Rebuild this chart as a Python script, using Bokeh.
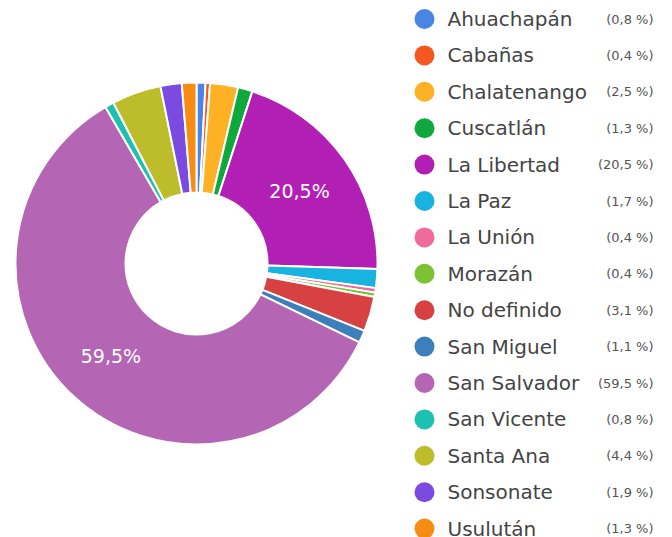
import math
from bokeh.plotting import figure
from bokeh.models import Range1d, ColumnDataSource
from bokeh.core.properties import value
from bokeh.embed import file_html
from bokeh.resources import INLINE

# ---- data ----
departments = ["Ahuachapán", "Cabañas", "Chalatenango", "Cuscatlán", "La Libertad",
               "La Paz", "La Unión", "Morazán", "No definido", "San Miguel",
               "San Salvador", "San Vicente", "Santa Ana", "Sonsonate", "Usulután"]
percents = [0.8, 0.4, 2.5, 1.3, 20.5, 1.7, 0.4, 0.4, 3.1, 1.1, 59.5, 0.8, 4.4, 1.9, 1.3]
colors = ["#4a84e4", "#f2581f", "#ffb126", "#0ea83c", "#b21fb4", "#19b3e0", "#ef6b9b",
          "#7cc232", "#d84142", "#3d7ebd", "#b466b5", "#1cc1b1", "#bdbd2b", "#7b4ae0", "#f68c12"]
pct_labels = ["(%s %%)" % str(v).replace(".", ",") for v in percents]
inner_labels = {"La Libertad": "20,5%", "San Salvador": "59,5%"}

W, H = 672, 537
p = figure(width=W, height=H, output_backend="svg", toolbar_location=None,
           x_range=Range1d(0, W), y_range=Range1d(0, H), min_border=0)
p.axis.visible = False
p.grid.visible = False
p.outline_line_color = None
p.background_fill_color = "white"

# ---- donut ----
cx, cy = 196, H - 263
r_out, r_in = 181, 71
total = sum(percents)
starts, ends = [], []
cum = 0.0
for v in percents:
    a0 = cum / total
    cum += v
    a1 = cum / total
    starts.append(math.pi / 2 - 2 * math.pi * a1)
    ends.append(math.pi / 2 - 2 * math.pi * a0)

src = ColumnDataSource(dict(x=[cx] * len(percents), y=[cy] * len(percents),
                            start=starts, end=ends, color=colors))
p.annular_wedge(x="x", y="y", inner_radius=r_in, outer_radius=r_out,
                inner_radius_units="screen", outer_radius_units="screen",
                start_angle="start", end_angle="end", fill_color="color",
                line_color="white", line_width=2, source=src)

lx, ly, lt = [], [], []
for name, s, e in zip(departments, starts, ends):
    if name in inner_labels:
        mid = (s + e) / 2
        rm = (r_in + r_out) / 2
        lx.append(cx + rm * math.cos(mid))
        ly.append(cy + rm * math.sin(mid))
        lt.append(inner_labels[name])
p.text(x=lx, y=ly, text=lt, text_color="white", text_font=value("DejaVu Sans"),
       text_font_size="19px", text_align="center", text_baseline="middle")

# ---- legend ----
row0, step = H - 18.5, 36.4
ys = [row0 - i * step for i in range(len(departments))]
p.scatter(x=[424] * len(departments), y=ys, size=20, marker="circle",
          fill_color=colors, line_color=None)
p.text(x=[447] * len(departments), y=ys, text=departments, text_color="#444444",
       text_font=value("DejaVu Sans"), text_font_size="20px", text_baseline="middle")
p.text(x=[653] * len(departments), y=ys, text=pct_labels, text_color="#555555",
       text_font=value("DejaVu Sans"), text_font_size="13px", text_align="right",
       text_baseline="middle")

open("out.html", "w").write(file_html(p, INLINE))
